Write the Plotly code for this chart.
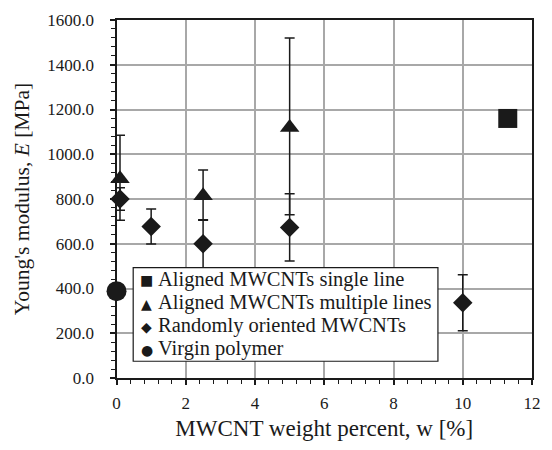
import plotly.graph_objects as go

# Data
single_x = [11.3]
single_y = [1160]
single_err = [35]

multi_x = [0.1, 2.5, 5.0]
multi_y = [890, 815, 1120]
multi_err_plus = [195, 115, 400]
multi_err_minus = [185, 110, 390]

rand_x = [0.1, 1.0, 2.5, 5.0, 10.0]
rand_y = [800, 677, 600, 673, 336]
rand_err = [50, 78, 107, 150, 125]

virgin_x = [0.0]
virgin_y = [388]

x_ticks = [0, 2, 4, 6, 8, 10, 12]
y_ticks = [0, 200, 400, 600, 800, 1000, 1200, 1400, 1600]
y_range = [0, 1600]

series_names = ["Aligned MWCNTs single line", "Aligned MWCNTs multiple lines",
                "Randomly oriented MWCNTs", "Virgin polymer"]
legend_symbols = ["\u25A0", "\u25B2", "\u25C6", "\u25CF"]

FONT = "Liberation Serif"
BLACK = "#1a1a1a"

# figure geometry (px)
W, H = 552, 450
ML, MR, MT, MB = 94, 11, 15, 72
PLOT_LEFT = 117
PW, PH = W - ML - MR, H - MT - MB
X_DOMAIN0 = (PLOT_LEFT - ML) / PW

def px_x(p):
    return (p - ML) / PW

def px_y(p):
    return (H - MB - p) / PH

def eb(plus, minus=None):
    d = dict(type="data", array=plus, color=BLACK, thickness=1.5, width=5, visible=True)
    if minus is not None:
        d["symmetric"] = False
        d["arrayminus"] = minus
    return d

fig = go.Figure()
fig.add_trace(go.Scatter(
    x=single_x, y=single_y, mode="markers", name=series_names[0],
    marker=dict(symbol="square", size=19, color=BLACK),
    error_y=eb(single_err), cliponaxis=False))
fig.add_trace(go.Scatter(
    x=multi_x, y=multi_y, mode="markers", name=series_names[1],
    marker=dict(symbol="triangle-up", size=17, color=BLACK),
    error_y=eb(multi_err_plus, multi_err_minus), cliponaxis=False))
fig.add_trace(go.Scatter(
    x=rand_x, y=rand_y, mode="markers", name=series_names[2],
    marker=dict(symbol="diamond", size=15, color=BLACK),
    error_y=eb(rand_err), cliponaxis=False))
# drawn on the labelled overlay axis, which has exactly the same scale as y
fig.add_trace(go.Scatter(
    x=virgin_x, y=virgin_y, mode="markers", name=series_names[3], yaxis="y2",
    marker=dict(symbol="circle", size=20, color=BLACK), cliponaxis=False))

# Legend box (shape + text, matching the compact original legend)
box_l, box_r, box_t, box_b = 134, 445, 266, 361
fig.add_shape(type="rect", xref="paper", yref="paper",
              x0=px_x(box_l), x1=px_x(box_r), y0=px_y(box_b), y1=px_y(box_t),
              line=dict(color=BLACK, width=1.2), fillcolor="white", layer="above")
row_centers = [278, 301.5, 325, 348.5]
for sym, name, yc in zip(legend_symbols, series_names, row_centers):
    fig.add_annotation(xref="paper", yref="paper", x=px_x(148), y=px_y(yc + 1),
                       xanchor="center", yanchor="middle", showarrow=False,
                       text=sym, font=dict(family="DejaVu Sans", size=14, color=BLACK))
    fig.add_annotation(xref="paper", yref="paper", x=px_x(157), y=px_y(yc),
                       xanchor="left", yanchor="middle", showarrow=False,
                       text=name, font=dict(family=FONT, size=20.5, color=BLACK))

axis_common = dict(
    showline=True, linecolor=BLACK, linewidth=1.5, mirror=True,
    showgrid=True, gridcolor="#a8a8a8", gridwidth=1.5,
    ticks="outside", ticklen=5, tickwidth=1.5, tickcolor=BLACK,
    zeroline=False,
    tickfont=dict(family=FONT, size=17, color=BLACK),
)

fig.update_layout(
    width=W, height=H,
    margin=dict(l=ML, r=MR, t=MT, b=MB),
    paper_bgcolor="white", plot_bgcolor="white",
    font=dict(family=FONT, size=17, color=BLACK),
    showlegend=False,
    xaxis=dict(
        domain=[X_DOMAIN0, 1], range=[0, 12], tickvals=x_ticks, ticklabelstandoff=4,
        title=dict(text="MWCNT weight percent, w [%]", font=dict(family=FONT, size=23), standoff=8),
        minor=dict(dtick=0.4, ticks="outside", ticklen=4, tickwidth=1.2, tickcolor=BLACK, showgrid=False),
        **axis_common,
    ),
    yaxis=dict(
        range=y_range, tickvals=y_ticks, showticklabels=False,
        minor=dict(dtick=40, ticks="outside", ticklen=4, tickwidth=1.2, tickcolor=BLACK, showgrid=False),
        **axis_common,
    ),
    # label-only axis with the same scale, placed a little further left like the original
    yaxis2=dict(
        overlaying="y", anchor="free", position=0, side="left",
        range=y_range, tickvals=y_ticks, tickformat=".1f",
        showline=False, showgrid=False, zeroline=False, ticks="",
        tickfont=dict(family=FONT, size=17, color=BLACK),
        title=dict(text="Young's modulus, <i>E</i> [MPa]", font=dict(family=FONT, size=21.5), standoff=10),
    ),
)

fig.write_html("out.html")
